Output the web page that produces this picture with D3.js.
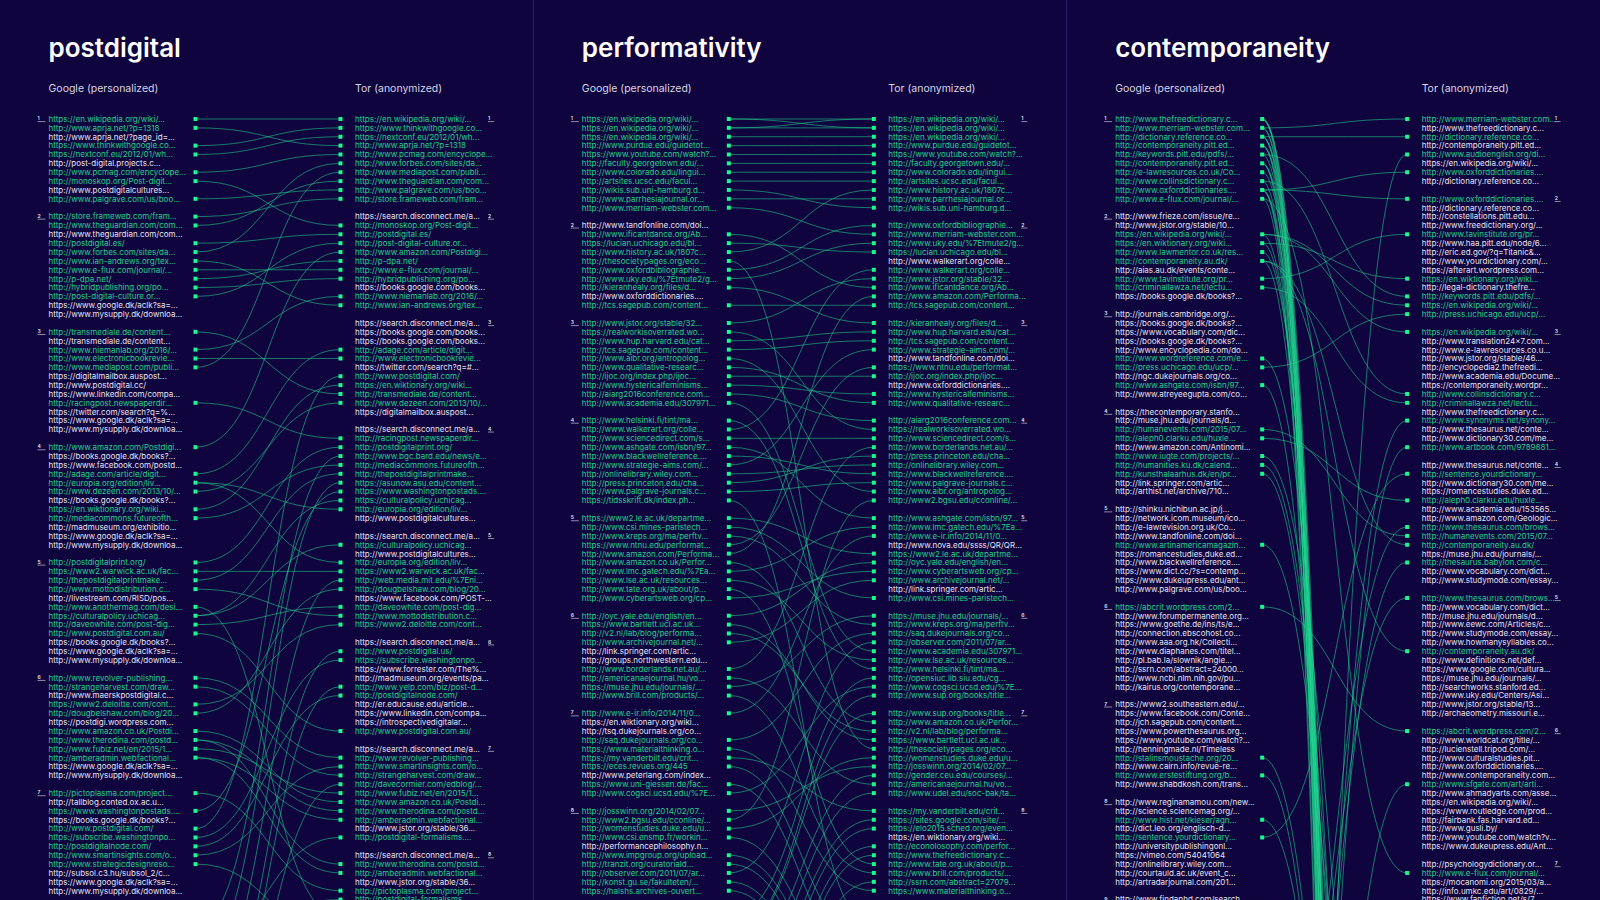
<!DOCTYPE html>
<html>
<head>
<meta charset="utf-8">
<script src="https://cdn.jsdelivr.net/npm/d3@7/dist/d3.min.js"></script>
<style>
  html, body { margin: 0; padding: 0; background: #10043f; overflow: hidden; }
  svg { display: block; font-family: Inter, "Noto Sans", sans-serif; }
</style>
</head>
<body>
<svg id="chart" width="1600" height="900"></svg>
<script>
// Search results per result page. "label|x" = same truncated label but a different URL (no match).
const titles = ["postdigital", "performativity", "contemporaneity"];

const postdigitalGoogle = [
  ["https://en.wikipedia.org/wiki/...", "http://www.aprja.net/?p=1318", "http://www.aprja.net/?page_id=...", "https://www.thinkwithgoogle.co...", "https://nextconf.eu/2012/01/wh...", "http://post-digital.projects.c...", "http://www.pcmag.com/encyclope...", "http://monoskop.org/Post-digit...", "http://www.postdigitalcultures...|g", "http://www.palgrave.com/us/boo..."],
  ["http://store.frameweb.com/fram...", "http://www.theguardian.com/com...", "http://www.theguardian.com/com...|g", "http://postdigital.es/", "http://www.forbes.com/sites/da...", "http://www.ian-andrews.org/tex...", "http://www.e-flux.com/journal/...", "http://p-dpa.net/", "http://hybridpublishing.org/po...", "http://post-digital-culture.or...", "https://www.google.dk/aclk?sa=...", "http://www.mysupply.dk/downloa..."],
  ["http://transmediale.de/content...", "http://transmediale.de/content...|g", "http://www.niemanlab.org/2016/...", "http://www.electronicbookrevie...", "http://www.mediapost.com/publi...", "https://digitalmailbox.auspost...|g", "http://www.postdigital.cc/", "https://www.linkedin.com/compa...|g", "http://racingpost.newspaperdir...", "https://twitter.com/search?q=%...", "https://www.google.dk/aclk?sa=...", "http://www.mysupply.dk/downloa..."],
  ["http://www.amazon.com/Postdigi...", "https://books.google.dk/books?...", "https://www.facebook.com/postd...", "http://adage.com/article/digit...", "http://europia.org/edition/liv...", "http://www.dezeen.com/2013/10/...", "https://books.google.dk/books?...", "https://en.wiktionary.org/wiki...", "http://mediacommons.futureofth...", "http://madmuseum.org/exhibitio...", "https://www.google.dk/aclk?sa=...", "http://www.mysupply.dk/downloa..."],
  ["http://postdigitalprint.org/", "https://www2.warwick.ac.uk/fac...", "http://thepostdigitalprintmake...", "http://www.mottodistribution.c...", "http://livestream.com/RISD/pos...", "http://www.anothermag.com/desi...", "https://culturalpolicy.uchicag...", "http://daveowhite.com/post-dig...", "http://www.postdigital.com.au/", "https://books.google.dk/books?...", "https://www.google.dk/aclk?sa=...", "http://www.mysupply.dk/downloa..."],
  ["http://www.revolver-publishing...", "http://strangeharvest.com/draw...", "http://www.maerskpostdigital.c...", "https://www2.deloitte.com/cont...", "http://dougbelshaw.com/blog/20...", "https://postdigi.wordpress.com...", "http://www.amazon.co.uk/Postdi...", "http://www.therodina.com/postd...", "http://www.fubiz.net/en/2015/1...", "http://amberadmin.webfactional...", "https://www.google.dk/aclk?sa=...", "http://www.mysupply.dk/downloa..."],
  ["http://pictoplasma.com/project...", "http://tallblog.conted.ox.ac.u...", "https://www.washingtonpostads....", "https://books.google.dk/books?...", "http://www.postdigital.com/", "https://subscribe.washingtonpo...", "http://postdigitalnode.com/", "http://www.smartinsights.com/o...", "http://www.strategicdesignreso...", "http://subsol.c3.hu/subsol_2/c...", "https://www.google.dk/aclk?sa=...", "http://www.mysupply.dk/downloa..."]
];
const postdigitalTor = [
  ["https://en.wikipedia.org/wiki/...", "https://www.thinkwithgoogle.co...", "https://nextconf.eu/2012/01/wh...", "http://www.aprja.net/?p=1318", "http://www.pcmag.com/encyclope...", "http://www.forbes.com/sites/da...", "http://www.mediapost.com/publi...", "http://www.theguardian.com/com...", "http://www.palgrave.com/us/boo...", "http://store.frameweb.com/fram..."],
  ["https://search.disconnect.me/a...", "http://monoskop.org/Post-digit...", "http://postdigital.es/", "http://post-digital-culture.or...", "http://www.amazon.com/Postdigi...", "http://p-dpa.net/", "http://www.e-flux.com/journal/...", "http://hybridpublishing.org/po...", "https://books.google.com/books...", "http://www.niemanlab.org/2016/...", "http://www.ian-andrews.org/tex..."],
  ["https://search.disconnect.me/a...", "https://books.google.com/books...", "https://books.google.com/books...", "http://adage.com/article/digit...", "http://www.electronicbookrevie...", "https://twitter.com/search?q=#...", "http://www.postdigital.com/", "https://en.wiktionary.org/wiki...", "http://transmediale.de/content...", "http://www.dezeen.com/2013/10/...", "https://digitalmailbox.auspost..."],
  ["https://search.disconnect.me/a...", "http://racingpost.newspaperdir...", "http://postdigitalprint.org/", "http://www.bgc.bard.edu/news/e...", "http://mediacommons.futureofth...", "http://thepostdigitalprintmake...", "https://asunow.asu.edu/content...", "https://www.washingtonpostads....", "https://culturalpolicy.uchicag...", "http://europia.org/edition/liv...", "http://www.postdigitalcultures..."],
  ["https://search.disconnect.me/a...", "https://culturalpolicy.uchicag...", "http://www.postdigitalcultures...", "http://europia.org/edition/liv...", "https://www2.warwick.ac.uk/fac...", "http://web.media.mit.edu/%7Eni...", "http://dougbelshaw.com/blog/20...", "https://www.facebook.com/POST-...", "http://daveowhite.com/post-dig...", "http://www.mottodistribution.c...", "https://www2.deloitte.com/cont..."],
  ["https://search.disconnect.me/a...", "http://www.postdigital.us/", "https://subscribe.washingtonpo...", "https://www.forrester.com/The%...", "http://madmuseum.org/events/pa...", "http://www.yelp.com/biz/post-d...", "http://postdigitalnode.com/", "http://er.educause.edu/article...", "https://www.linkedin.com/compa...", "https://introspectivedigitalar...", "http://www.postdigital.com.au/"],
  ["https://search.disconnect.me/a...", "http://www.revolver-publishing...", "http://www.smartinsights.com/o...", "http://strangeharvest.com/draw...", "http://davecormier.com/edblog/...", "http://www.fubiz.net/en/2015/1...", "http://www.amazon.co.uk/Postdi...", "http://www.therodina.com/postd...", "http://amberadmin.webfactional...", "http://www.jstor.org/stable/36...", "http://postdigital-formalisms...."],
  ["https://search.disconnect.me/a...", "http://www.therodina.com/postd...", "http://amberadmin.webfactional...", "http://www.jstor.org/stable/36...", "http://pictoplasma.com/project...", "http://postdigital-formalisms...."]
];
// results below the picture edge: [label, row slot] (estimated from where the lines leave)
const postdigitalGoogleBeyond = [["http://www.bgc.bard.edu/news/e...", 91], ["http://postdigital-formalisms....", 93], ["https://asunow.asu.edu/content...", 95], ["http://web.media.mit.edu/%7Eni...", 99], ["http://www.postdigital.us/", 104], ["http://www.yelp.com/biz/post-d...", 107], ["http://davecormier.com/edblog/...", 110]];
const postdigitalTorBeyond = [["http://www.anothermag.com/desi...", 90], ["http://www.strategicdesignreso...", 92]];

const performativityGoogle = [
  ["https://en.wikipedia.org/wiki/...", "https://en.wikipedia.org/wiki/...", "https://en.wikipedia.org/wiki/...|3", "http://www.purdue.edu/guidetot...", "https://www.youtube.com/watch?...", "http://faculty.georgetown.edu/...", "http://www.colorado.edu/lingui...", "http://artsites.ucsc.edu/facul...", "http://wikis.sub.uni-hamburg.d...", "http://www.parrhesiajournal.or...", "http://www.merriam-webster.com..."],
  ["http://www.tandfonline.com/doi...|g", "http://www.ificantdance.org/Ab...", "https://lucian.uchicago.edu/bl...", "http://www.history.ac.uk/1807c...", "http://thesocietypages.org/eco...", "http://www.oxfordbibliographie...", "http://www.uky.edu/%7Etmute2/g...", "http://kieranhealy.org/files/d...", "http://www.oxforddictionaries....|g", "http://tcs.sagepub.com/content..."],
  ["http://www.jstor.org/stable/32...", "https://realworkisoverrated.wo...", "http://www.hup.harvard.edu/cat...", "http://tcs.sagepub.com/content...|2", "http://www.aibr.org/antropolog...", "http://www.qualitative-researc...", "http://ijoc.org/index.php/ijoc...", "http://www.hystericalfeminisms...", "http://aiarg2016conference.com...", "http://www.academia.edu/307971..."],
  ["http://www.helsinki.fi/tint/ma...", "http://www.walkerart.org/colle...", "http://www.sciencedirect.com/s...", "http://www.ashgate.com/isbn/97...", "http://www.blackwellreference....", "http://www.strategie-aims.com/...", "http://onlinelibrary.wiley.com...", "http://press.princeton.edu/cha...", "http://www.palgrave-journals.c...", "https://tidsskrift.dk/index.ph..."],
  ["https://www2.le.ac.uk/departme...", "http://www.csi.mines-paristech...", "http://www.kreps.org/ma/perftv...", "https://www.ntnu.edu/performat...", "http://www.amazon.com/Performa...", "http://www.amazon.co.uk/Perfor...", "http://www.lmc.gatech.edu/%7Ea...", "http://www.lse.ac.uk/resources...", "http://www.tate.org.uk/about/p...", "http://www.cyberartsweb.org/cp..."],
  ["http://oyc.yale.edu/english/en...", "https://www.bartlett.ucl.ac.uk...", "http://v2.nl/lab/blog/performa...", "http://www.archivejournal.net/...", "http://link.springer.com/artic...|g", "http://groups.northwestern.edu...", "http://www.borderlands.net.au/...", "http://americanaejournal.hu/vo...", "https://muse.jhu.edu/journals/...", "http://www.brill.com/products/..."],
  ["http://www.e-ir.info/2014/11/0...", "https://en.wiktionary.org/wiki...|g", "http://tsq.dukejournals.org/co...", "http://saq.dukejournals.org/co...", "https://www.materialthinking.o...", "https://my.vanderbilt.edu/crit...", "https://eces.revues.org/445", "http://www.peterlang.com/index...", "https://www.uni-giessen.de/fac...", "http://www.cogsci.ucsd.edu/%7E..."],
  ["http://josswinn.org/2014/02/07...", "http://www2.bgsu.edu/cconline/...", "http://womenstudies.duke.edu/u...", "http://www.csi.ensmp.fr/workin...", "http://performancephilosophy.n...", "http://www.impgroup.org/upload...", "http://tranzit.org/curatoriald...", "http://observer.com/2011/07/ar...", "http://konst.gu.se/fakulteten/...", "https://halshs.archives-ouvert..."]
];
const performativityTor = [
  ["https://en.wikipedia.org/wiki/...", "https://en.wikipedia.org/wiki/...", "https://en.wikipedia.org/wiki/...|3", "http://www.purdue.edu/guidetot...", "https://www.youtube.com/watch?...", "http://faculty.georgetown.edu/...", "http://www.colorado.edu/lingui...", "http://artsites.ucsc.edu/facul...", "http://www.history.ac.uk/1807c...", "http://www.parrhesiajournal.or...", "http://wikis.sub.uni-hamburg.d..."],
  ["http://www.oxfordbibliographie...", "http://www.merriam-webster.com...", "http://www.uky.edu/%7Etmute2/g...", "https://lucian.uchicago.edu/bl...", "http://www.walkerart.org/colle...|t", "http://www.walkerart.org/colle...", "http://www.jstor.org/stable/32...", "http://www.ificantdance.org/Ab...", "http://www.amazon.com/Performa...", "http://tcs.sagepub.com/content..."],
  ["http://kieranhealy.org/files/d...", "http://www.hup.harvard.edu/cat...", "http://tcs.sagepub.com/content...|2", "http://www.strategie-aims.com/...", "http://www.tandfonline.com/doi...", "https://www.ntnu.edu/performat...", "http://ijoc.org/index.php/ijoc...", "http://www.oxforddictionaries....", "http://www.hystericalfeminisms...", "http://www.qualitative-researc..."],
  ["http://aiarg2016conference.com...", "https://realworkisoverrated.wo...", "http://www.sciencedirect.com/s...", "http://www.borderlands.net.au/...", "http://press.princeton.edu/cha...", "http://onlinelibrary.wiley.com...", "http://www.blackwellreference....", "http://www.palgrave-journals.c...", "http://www.aibr.org/antropolog...", "http://www2.bgsu.edu/cconline/..."],
  ["http://www.ashgate.com/isbn/97...", "http://www.lmc.gatech.edu/%7Ea...", "http://www.e-ir.info/2014/11/0...", "http://www.nova.edu/ssss/QR/QR...", "https://www2.le.ac.uk/departme...", "http://oyc.yale.edu/english/en...", "http://www.cyberartsweb.org/cp...", "http://www.archivejournal.net/...", "http://link.springer.com/artic...", "http://www.csi.mines-paristech..."],
  ["https://muse.jhu.edu/journals/...", "http://www.kreps.org/ma/perftv...", "http://saq.dukejournals.org/co...", "http://observer.com/2011/07/ar...", "http://www.academia.edu/307971...", "http://www.lse.ac.uk/resources...", "http://www.helsinki.fi/tint/ma...", "http://opensiuc.lib.siu.edu/cg...", "http://www.cogsci.ucsd.edu/%7E...", "http://www.sup.org/books/title..."],
  ["http://www.sup.org/books/title...", "http://www.amazon.co.uk/Perfor...", "http://v2.nl/lab/blog/performa...", "https://www.bartlett.ucl.ac.uk...", "http://thesocietypages.org/eco...", "http://womenstudies.duke.edu/u...", "http://josswinn.org/2014/02/07...", "http://gender.ceu.edu/courses/...", "http://americanaejournal.hu/vo...", "http://www.udel.edu/soc-bak/ta..."],
  ["https://my.vanderbilt.edu/crit...", "https://sites.google.com/site/...", "https://elo2015.sched.org/even...", "https://en.wiktionary.org/wiki...", "http://econolosophy.com/perfor...", "http://www.thefreedictionary.c...", "http://www.tate.org.uk/about/p...", "http://www.brill.com/products/...", "http://ssrn.com/abstract=27079...", "https://www.materialthinking.o..."]
];
const performativityGoogleBeyond = [["http://opensiuc.lib.siu.edu/cg...", 90], ["http://www.sup.org/books/title...", 92], ["http://gender.ceu.edu/courses/...", 95], ["http://www.udel.edu/soc-bak/ta...", 97], ["https://sites.google.com/site/...", 99], ["https://elo2015.sched.org/even...", 101], ["http://econolosophy.com/perfor...", 104], ["http://www.thefreedictionary.c...", 106], ["http://ssrn.com/abstract=27079...", 108]];
const performativityTorBeyond = [["https://tidsskrift.dk/index.ph...", 91], ["https://eces.revues.org/445", 93], ["https://www.uni-giessen.de/fac...", 96], ["http://www.csi.ensmp.fr/workin...", 98], ["http://www.impgroup.org/upload...", 100], ["http://tranzit.org/curatoriald...", 102], ["http://konst.gu.se/fakulteten/...", 105], ["https://halshs.archives-ouvert...", 107]];

const contemporaneityGoogle = [
  ["http://www.thefreedictionary.c...", "http://www.merriam-webster.com...", "http://dictionary.reference.co...", "http://contemporaneity.pitt.ed...", "http://keywords.pitt.edu/pdfs/...", "http://contemporaneity.pitt.ed...", "http://e-lawresources.co.uk/Co...", "http://www.collinsdictionary.c...", "http://www.oxforddictionaries....", "http://www.e-flux.com/journal/..."],
  ["http://www.frieze.com/issue/re...", "http://www.jstor.org/stable/10...", "https://en.wikipedia.org/wiki/...", "https://en.wiktionary.org/wiki...", "http://www.lawmentor.co.uk/res...", "http://contemporaneity.au.dk/", "http://aias.au.dk/events/conte...", "http://www.tavinstitute.org/pr...", "http://criminallawza.net/lectu...", "https://books.google.dk/books?..."],
  ["http://journals.cambridge.org/...", "https://books.google.dk/books?...", "https://www.vocabulary.com/dic...", "https://books.google.dk/books?...", "http://www.encyclopedia.com/do...", "http://www.wordreference.com/e...", "http://press.uchicago.edu/ucp/...", "http://ngc.dukejournals.org/co...", "http://www.ashgate.com/isbn/97...", "http://www.atreyeegupta.com/co..."],
  ["https://thecontemporary.stanfo...", "http://muse.jhu.edu/journals/d...|g", "http://humanevents.com/2015/07...", "http://aleph0.clarku.edu/huxle...", "http://www.amazon.com/Antinomi...", "http://www.iugte.com/projects/...", "http://humanities.ku.dk/calend...", "http://kunsthalaarhus.dk/en/pr...", "http://link.springer.com/artic...", "http://arthist.net/archive/710..."],
  ["http://shinku.nichibun.ac.jp/j...", "http://network.icom.museum/ico...", "http://e-lawrevision.org.uk/Co...", "http://www.tandfonline.com/doi...", "http://www.artinamericamagazin...", "https://romancestudies.duke.ed...|g", "http://www.blackwellreference....", "https://www.dict.cc/?s=contemp...", "https://www.dukeupress.edu/ant...", "http://www.palgrave.com/us/boo..."],
  ["https://abcrit.wordpress.com/2...", "http://www.forumpermanente.org...", "https://www.goethe.de/ins/ts/e...", "http://connection.ebscohost.co...", "http://www.aaa.org.hk/Collecti...", "http://www.diaphanes.com/titel...", "http://pl.bab.la/slownik/angie...", "http://ssrn.com/abstract=24000...", "http://www.ncbi.nlm.nih.gov/pu...", "http://kairus.org/contemporane..."],
  ["https://www2.southeastern.edu/...", "https://www.facebook.com/Conte...", "http://jch.sagepub.com/content...", "https://www.powerthesaurus.org...", "https://www.youtube.com/watch?...", "http://henningmade.nl/Timeless", "http://stalinsmoustache.org/20...", "http://www.cairn.info/revue-re...", "http://www.erstestiftung.org/b...", "http://www.shabdkosh.com/trans..."],
  ["http://www.reginamamou.com/new...", "http://science.sciencemag.org/...", "http://www.hist.net/kieser/agn...", "http://dict.leo.org/englisch-d...", "http://sentence.yourdictionary...", "http://universitypublishingonl...", "https://vimeo.com/54041064", "http://onlinelibrary.wiley.com...", "http://courtauld.ac.uk/event_c...", "http://artradarjournal.com/201..."],
  ["http://www.findaphd.com/search..."]
];
const contemporaneityTor = [
  ["http://www.merriam-webster.com...", "http://www.thefreedictionary.c...|t", "http://dictionary.reference.co...", "http://contemporaneity.pitt.ed...|t", "http://www.audioenglish.org/di...", "https://en.wikipedia.org/wiki/...|t", "http://www.oxforddictionaries....", "http://dictionary.reference.co...|t"],
  ["http://www.oxforddictionaries....", "http://dictionary.reference.co...|t", "http://constellations.pitt.edu...", "http://www.freedictionary.org/...", "http://www.tavinstitute.org/pr...", "http://www.haa.pitt.edu/node/6...", "http://eric.ed.gov/?q=Titanic&...", "http://www.yourdictionary.com/...", "https://afterart.wordpress.com...", "https://en.wiktionary.org/wiki...", "http://legal-dictionary.thefre...", "http://keywords.pitt.edu/pdfs/...", "https://en.wikipedia.org/wiki/...", "http://press.uchicago.edu/ucp/..."],
  ["https://en.wikipedia.org/wiki/...", "http://www.translation24x7.com...", "http://www.e-lawresources.co.u...", "http://www.jstor.org/stable/46...", "http://encyclopedia2.thefreedi...", "http://www.academia.edu/Docume...", "https://contemporaneity.wordpr...", "http://www.collinsdictionary.c...", "http://criminallawza.net/lectu...", "http://www.thefreedictionary.c...|t", "http://www.synonyms.net/synony...", "http://www.thesaurus.net/conte...", "http://www.dictionary30.com/me...", "http://www.artbook.com/9789881..."],
  ["http://www.thesaurus.net/conte...", "http://sentence.yourdictionary...", "http://www.dictionary30.com/me...", "https://romancestudies.duke.ed...", "http://aleph0.clarku.edu/huxle...", "http://www.academia.edu/153565...", "http://www.amazon.com/Geologic...", "http://www.thesaurus.com/brows...", "http://humanevents.com/2015/07...", "http://contemporaneity.au.dk/", "https://muse.jhu.edu/journals/...", "http://thesaurus.babylon.com/c...", "http://www.vocabulary.com/dict...", "http://www.studymode.com/essay..."],
  ["http://www.thesaurus.com/brows...", "http://www.vocabulary.com/dict...", "http://muse.jhu.edu/journals/d...", "http://www.eewc.com/Articles/c...", "http://www.studymode.com/essay...", "http://www.howmanysyllables.co...", "http://contemporaneity.au.dk/", "http://www.definitions.net/def...", "https://www.google.com/cultura...", "https://muse.jhu.edu/journals/...", "http://searchworks.stanford.ed...", "http://www.uky.edu/Centers/Asi...", "http://www.jstor.org/stable/13...", "http://archaeometry.missouri.e..."],
  ["https://abcrit.wordpress.com/2...", "http://www.worldcat.org/title/...", "http://lucienstell.tripod.com/...", "http://www.culturalstudies.pit...", "http://www.oxforddictionaries....|t", "http://www.contemporaneity.com...", "http://www.sfgate.com/art/arti...", "http://www.ahmadyarts.com/asse...", "https://en.wikipedia.org/wiki/...|t", "https://www.routledge.com/prod...", "http://fairbank.fas.harvard.ed...", "http://www.gusli.by/", "http://www.youtube.com/watch?v...", "https://www.dukeupress.edu/Ant..."],
  ["http://psychologydictionary.or...", "http://www.e-flux.com/journal/...", "https://mocanomi.org/2015/03/a...", "http://info.umkc.edu/art/0829/...", "https://www.fanfiction.net/s/7..."]
];
const contemporaneityGoogleBeyond = [["http://www.thesaurus.com/brows...", 118], ["http://thesaurus.babylon.com/c...", 134], ["http://www.synonyms.net/synony...", 150], ["http://www.artbook.com/9789881...", 162], ["http://www.sfgate.com/art/arti...", 176], ["http://www.audioenglish.org/di...", 186]];
const contemporaneityTorBeyond = [
  ["http://www.iugte.com/projects/...", 140], ["http://www.artinamericamagazin...", 150], ["http://humanities.ku.dk/calend...", 160], ["http://kunsthalaarhus.dk/en/pr...", 168],
  ["http://www.wordreference.com/e...", 175], ["http://www.hist.net/kieser/agn...", 184], ["http://stalinsmoustache.org/20...", 192], ["http://www.erstestiftung.org/b...", 200],
  ["http://www.ashgate.com/isbn/97...", 212], ["http://www.lawmentor.co.uk/res...", 226], ["https://en.wiktionary.org/wiki...", 240], ["https://en.wikipedia.org/wiki/...", 250],
  ["http://contemporaneity.au.dk/", 256],
  ["http://www.thefreedictionary.c...", 262], ["http://dictionary.reference.co...", 266], ["http://contemporaneity.pitt.ed...", 270], ["http://www.oxforddictionaries....", 274],
  ["http://www.thefreedictionary.c...", 278], ["http://www.merriam-webster.com...", 282], ["http://e-lawresources.co.uk/Co...", 286],
  ["http://dictionary.reference.co...", 290], ["http://contemporaneity.pitt.ed...", 295], ["http://www.thefreedictionary.c...", 300], ["http://keywords.pitt.edu/pdfs/...", 304],
  ["http://www.oxforddictionaries....", 308], ["http://www.merriam-webster.com...", 312], ["http://www.collinsdictionary.c...", 316], ["http://dictionary.reference.co...", 320],
  ["http://www.thefreedictionary.c...", 326], ["http://contemporaneity.pitt.ed...", 332], ["http://www.oxforddictionaries....", 340], ["http://www.e-flux.com/journal/...", 348]
];

const panels = [
  {title: titles[0], google: postdigitalGoogle, tor: postdigitalTor, googleBeyond: postdigitalGoogleBeyond, torBeyond: postdigitalTorBeyond},
  {title: titles[1], google: performativityGoogle, tor: performativityTor, googleBeyond: performativityGoogleBeyond, torBeyond: performativityTorBeyond},
  {title: titles[2], google: contemporaneityGoogle, tor: contemporaneityTor, googleBeyond: contemporaneityGoogleBeyond, torBeyond: contemporaneityTorBeyond}
];

const W = 1600, H = 900;
const svg = d3.select("#chart");

const panelX = d3.scaleBand().domain(titles).range([0, W]);
// one result per row, one empty row between result pages
const rowY = d3.scaleLinear().domain([0, 1]).range([119, 119 + 8.87]);

const colors = {
  green: "#25cf8c",
  white: "#e4e3ee",
  square: "#1bf88e",
  link: "#21d48f",
  divider: "#2c2170"
};

function layout(pages, beyond) {
  var items = [], slot = 0;
  pages.forEach(function(page, p) {
    page.forEach(function(s, i) {
      items.push({key: s, label: s.split("|")[0], slot: slot + i, page: i === 0 ? p + 1 : null});
    });
    slot += page.length + 1;
  });
  beyond.forEach(function(d) {
    items.push({key: d[0], label: d[0].split("|")[0], slot: d[1], page: null});
  });
  return items;
}

//divider lines between the panels
svg.selectAll("line.divider")
  .data(titles.slice(1))
  .join("line")
  .attr("class", "divider")
  .attr("x1", d => panelX(d))
  .attr("x2", d => panelX(d))
  .attr("y1", 0)
  .attr("y2", H)
  .attr("stroke", colors.divider)
  .attr("stroke-width", 1);

panels.forEach(function(panel) {
  var x0 = panelX(panel.title),
    gText = x0 + 48.5,
    gSquare = x0 + 195.5,
    tSquare = x0 + 340.5,
    tText = x0 + 355,
    tPage = x0 + 488;

  var googleItems = layout(panel.google, panel.googleBeyond),
    torItems = layout(panel.tor, panel.torBeyond),
    torByKey = d3.group(torItems, d => d.key),
    googleByKey = d3.group(googleItems, d => d.key);

  var links = [];
  googleItems.forEach(function(g) {
    (torByKey.get(g.key) || []).forEach(function(t) {
      links.push({source: [gSquare, rowY(g.slot)], target: [tSquare, rowY(t.slot)]});
    });
  });
  googleItems.forEach(d => d.matched = torByKey.has(d.key));
  torItems.forEach(d => d.matched = googleByKey.has(d.key));

  var g = svg.append("g").attr("class", "panel");

  g.append("text")
    .attr("x", gText)
    .attr("y", 57)
    .text(panel.title)
    .style("font-size", "26px")
    .style("font-weight", 600)
    .attr("fill", "#ffffff");

  g.append("text")
    .attr("x", gText)
    .attr("y", 92)
    .text("Google (personalized)")
    .style("font-size", "10.5px")
    .attr("fill", "#d6d5e2");

  g.append("text")
    .attr("x", tText)
    .attr("y", 92)
    .text("Tor (anonymized)")
    .style("font-size", "10.5px")
    .attr("fill", "#d6d5e2");

  //curves between identical results
  var link = d3.linkHorizontal().x(d => d[0]).y(d => d[1]);
  g.append("g")
    .selectAll("path")
    .data(links)
    .join("path")
    .attr("d", link)
    .attr("fill", "none")
    .attr("stroke", colors.link)
    .attr("stroke-width", 0.8)
    .attr("stroke-opacity", 0.7);

  [[googleItems, gText, gSquare], [torItems, tText, tSquare]].forEach(function(side) {
    //rows past the bottom edge only anchor their curves
    var items = side[0].filter(d => rowY(d.slot) < H + 6);
    g.append("g")
      .selectAll("text")
      .data(items)
      .join("text")
      .attr("x", side[1])
      .attr("y", d => rowY(d.slot))
      .attr("dy", "0.36em")
      .text(d => d.label)
      .style("font-size", "8px")
      .attr("fill", d => d.matched ? colors.green : colors.white);

    g.append("g")
      .selectAll("rect")
      .data(items.filter(d => d.matched))
      .join("rect")
      .attr("x", side[2] - 2)
      .attr("y", d => rowY(d.slot) - 2)
      .attr("width", 4)
      .attr("height", 4)
      .attr("fill", colors.square);
  });

  //page numbers
  [[googleItems, x0 + 37.5, 8], [torItems, tPage, 6]].forEach(function(side) {
    var starts = side[0].filter(d => d.page !== null);
    var pg = g.append("g").selectAll("g").data(starts).join("g");
    pg.append("text")
      .attr("x", side[1])
      .attr("y", d => rowY(d.slot) + 1.2)
      .text(d => d.page)
      .style("font-size", "5px")
      .style("font-weight", 600)
      .attr("fill", colors.white);
    pg.append("line")
      .attr("x1", side[1])
      .attr("x2", side[1] + side[2])
      .attr("y1", d => rowY(d.slot) + 2.6)
      .attr("y2", d => rowY(d.slot) + 2.6)
      .attr("stroke", colors.white)
      .attr("stroke-width", 0.6);
  });
});
</script>
</body>
</html>
